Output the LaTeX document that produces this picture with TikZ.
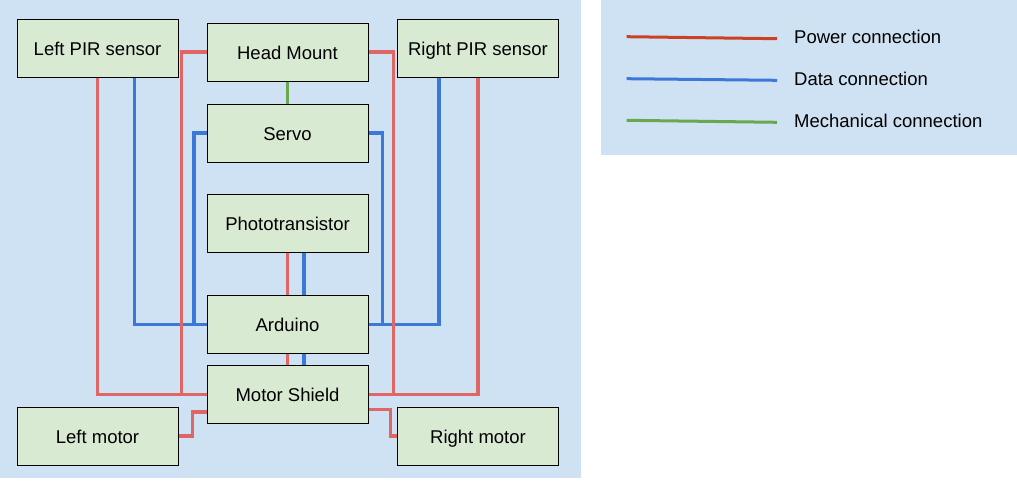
\documentclass[tikz,border=0pt]{standalone}
\usepackage{fontspec}
\setmainfont{Liberation Sans}
\definecolor{bgblue}{HTML}{CFE2F3}
\definecolor{boxgreen}{HTML}{D9EAD3}
\definecolor{pwr}{HTML}{E06666}
\definecolor{pwrdark}{HTML}{CC4125}
\definecolor{dat}{HTML}{3C78D8}
\definecolor{mech}{HTML}{6AA84F}
\begin{document}
\begin{tikzpicture}[x=1pt,y=-1pt,
  blk/.style={draw=black,line width=1pt,fill=boxgreen,minimum width=161pt,minimum height=58pt,inner sep=0pt,
    font=\fontsize{18.5}{22}\selectfont,text height=14pt,text depth=0pt},
  pwrline/.style={pwr,line width=3.6pt},
  datline/.style={dat,line width=3.6pt},
  mechline/.style={mech,line width=3.6pt},
  legtext/.style={anchor=base west,inner sep=0pt,font=\fontsize{18.5}{22}\selectfont}]
\useasboundingbox (0,0) rectangle (1017,480);
\fill[bgblue] (0,0) rectangle (581,478);
\fill[bgblue] (601,0) rectangle (1017,155);
% nodes
\node[blk] (lpir) at (97.5,48) {Left PIR sensor};
\node[blk] (head) at (287.5,52) {Head Mount};
\node[blk] (rpir) at (478,48) {Right PIR sensor};
\node[blk] (servo) at (287.5,133) {Servo};
\node[blk] (photo) at (287.5,223) {Phototransistor};
\node[blk] (ard) at (287.5,324.5) {Arduino};
\node[blk] (ms) at (287.5,394.5) {Motor Shield};
\node[blk] (lmot) at (97.5,436) {Left motor};
\node[blk] (rmot) at (478,436) {Right motor};
% data connections
\draw[datline] ([xshift=37pt]lpir.south) |- (ard.west);
\draw[datline] (servo.west) -- ++(-12.5,0) |- (ard.west);
\draw[datline] ([xshift=-39pt]rpir.south) |- (ard.east);
\draw[datline] (servo.east) -- ++(14,0) |- (ard.east);
\draw[datline] ([xshift=16.5pt]photo.south) -- ([xshift=16.5pt]ard.north);
\draw[datline] ([xshift=16.5pt]ard.south) -- ([xshift=16.5pt]ms.north);
% power connections
\draw[pwrline] (lpir.south) |- (ms.west);
\draw[pwrline] (head.west) -- ++(-25,0) |- (ms.west);
\draw[pwrline] (rpir.south) |- (ms.east);
\draw[pwrline] (head.east) -- ++(25,0) |- (ms.east);
\draw[pwrline] (photo.south) -- (ard.north);
\draw[pwrline] (ard.south) -- (ms.north);
\draw[pwrline] ([yshift=-17.5pt]ms.west) -- ++(-14,0) |- (lmot.east);
\draw[pwrline] ([yshift=-15pt]ms.east) -- ++(22,0) |- (rmot.west);
% mechanical
\draw[mechline] (head.south) -- (servo.north);
% legend
\coordinate (lp1) at (626.7,36.7); \coordinate (lp2) at (777,38.7);
\coordinate (ld1) at (626.7,78.7); \coordinate (ld2) at (777,80.3);
\coordinate (lm1) at (626.7,120.3); \coordinate (lm2) at (777,122.3);
\draw[pwrdark,line width=3pt] (lp1) -- (lp2);
\draw[dat,line width=3pt] (ld1) -- (ld2);
\draw[mech,line width=3pt] (lm1) -- (lm2);
\node[legtext] (lpt) at (794,43.7) {Power connection};
\node[legtext] (ldt) at (794,85.7) {Data connection};
\node[legtext] (lmt) at (794,127.7) {Mechanical connection};
\end{tikzpicture}
\end{document}
